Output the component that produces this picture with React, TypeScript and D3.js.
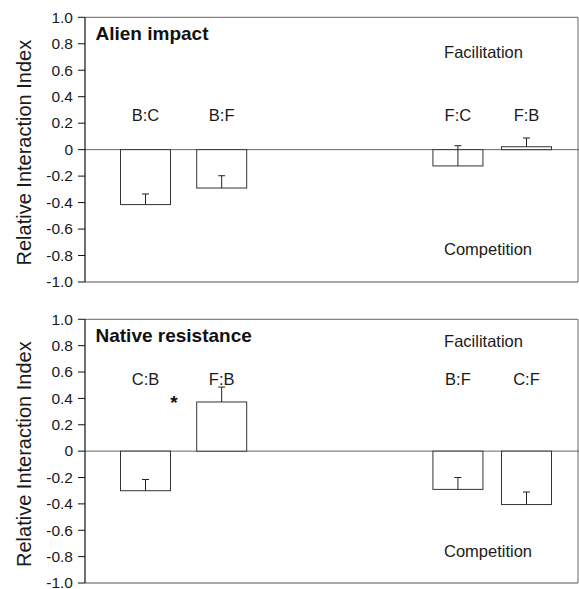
import React from "react";
import * as d3 from "d3";

// ---- Data ----
const alienLabels = ["B:C", "B:F", "F:C", "F:B"];
const alienValues = [-0.415, -0.29, -0.123, 0.022];
const alienErrors = [0.08, 0.093, 0.153, 0.066];

const nativeLabels = ["C:B", "F:B", "B:F", "C:F"];
const nativeValues = [-0.3, 0.373, -0.29, -0.405];
const nativeErrors = [0.085, 0.113, 0.09, 0.095];

const yTickValues = [1.0, 0.8, 0.6, 0.4, 0.2, 0, -0.2, -0.4, -0.6, -0.8, -1.0];
const yTickLabels = ["1.0", "0.8", "0.6", "0.4", "0.2", "0", "-0.2", "-0.4", "-0.6", "-0.8", "-1.0"];

// ---- Layout ----
const W = 579;
const H = 589;
const FONT = "'Liberation Sans', Arial, Helvetica, sans-serif";
const LEFT = 85;
const RIGHT = 578;
const SLOT = [0, 1, 4.1, 5];
const BAR_W = 50;

type PanelDef = {
  title: string;
  labels: string[];
  values: number[];
  errors: number[];
  top: number;
  bottom: number;
  labelAt: number;
  facAt: number;
  compAt: number;
  star?: boolean;
};

const panels: PanelDef[] = [
  {
    title: "Alien impact",
    labels: alienLabels,
    values: alienValues,
    errors: alienErrors,
    top: 17.3,
    bottom: 282,
    labelAt: 0.26,
    facAt: 0.735,
    compAt: -0.752,
  },
  {
    title: "Native resistance",
    labels: nativeLabels,
    values: nativeValues,
    errors: nativeErrors,
    top: 319.3,
    bottom: 583,
    labelAt: 0.547,
    facAt: 0.832,
    compAt: -0.758,
    star: true,
  },
];

const x = d3.scaleLinear().domain([0, 5]).range([145.5, 526.5]);

function Panel({ p }: { p: PanelDef }) {
  const y = d3.scaleLinear().domain([-1, 1]).range([p.bottom, p.top]);
  const y0 = y(0);
  const textColor = "#1a1a1a";
  return (
    <g>
      {/* frame */}
      <line x1={LEFT} x2={RIGHT} y1={p.top} y2={p.top} stroke="#666" strokeWidth={1} />
      <line x1={RIGHT} x2={RIGHT} y1={p.top} y2={p.bottom} stroke="#666" strokeWidth={1} />
      <line x1={LEFT} x2={RIGHT} y1={p.bottom} y2={p.bottom} stroke="#555" strokeWidth={1} />
      {/* zero line */}
      <line x1={LEFT} x2={579} y1={y0} y2={y0} stroke="#666" strokeWidth={1} />
      {/* y axis */}
      <line x1={LEFT} x2={LEFT} y1={p.top} y2={p.bottom} stroke="#111" strokeWidth={1.2} />
      {yTickValues.map((v, i) => (
        <g key={i}>
          <line x1={LEFT - 7} x2={LEFT} y1={y(v)} y2={y(v)} stroke="#111" strokeWidth={1} />
          <text
            x={LEFT - 12}
            y={y(v)}
            dy="0.34em"
            textAnchor="end"
            fontFamily={FONT}
            fontSize={15.5}
            fill={textColor}
          >
            {yTickLabels[i]}
          </text>
        </g>
      ))}
      <text
        transform={`translate(30.5, ${(p.top + p.bottom) / 2 + 3}) rotate(-90)`}
        textAnchor="middle"
        fontFamily={FONT}
        fontSize={20}
        fill={textColor}
      >
        Relative Interaction Index
      </text>
      {/* title */}
      <text x={95.5} y={p.top + 22.7} fontFamily={FONT} fontSize={19} fontWeight="bold" fill="#111">
        {p.title}
      </text>
      <text x={483.5} y={y(p.facAt)} dy="0.36em" textAnchor="middle" fontFamily={FONT} fontSize={16.5} fill={textColor}>
        Facilitation
      </text>
      <text x={488} y={y(p.compAt)} dy="0.36em" textAnchor="middle" fontFamily={FONT} fontSize={16.5} fill={textColor}>
        Competition
      </text>
      {/* bars */}
      {p.values.map((v, i) => {
        const cx = x(SLOT[i]);
        const yv = y(v);
        const ye = y(v + p.errors[i]);
        return (
          <g key={i}>
            <rect
              x={cx - BAR_W / 2}
              y={Math.min(yv, y0)}
              width={BAR_W}
              height={Math.abs(yv - y0)}
              fill="#fff"
              stroke="#333"
              strokeWidth={1}
            />
            <line x1={cx} x2={cx} y1={yv} y2={ye} stroke="#222" strokeWidth={1} />
            <line x1={cx - 3.5} x2={cx + 3.5} y1={ye} y2={ye} stroke="#222" strokeWidth={1} />
            <text
              x={cx}
              y={y(p.labelAt)}
              dy="0.36em"
              textAnchor="middle"
              fontFamily={FONT}
              fontSize={16.5}
              fill={textColor}
            >
              {p.labels[i]}
            </text>
          </g>
        );
      })}
      {p.star && (
        <text x={174} y={409} textAnchor="middle" fontFamily={FONT} fontSize={19} fontWeight="bold" fill="#111">
          *
        </text>
      )}
    </g>
  );
}

export default function App() {
  return (
    <svg
      width={W}
      height={H}
      viewBox={`0 0 ${W} ${H}`}
      style={{ position: "absolute", left: 0, top: 0, background: "#fff" }}
    >
      <rect x={0} y={0} width={W} height={H} fill="#fff" />
      {panels.map((p, i) => (
        <Panel key={i} p={p} />
      ))}
    </svg>
  );
}
